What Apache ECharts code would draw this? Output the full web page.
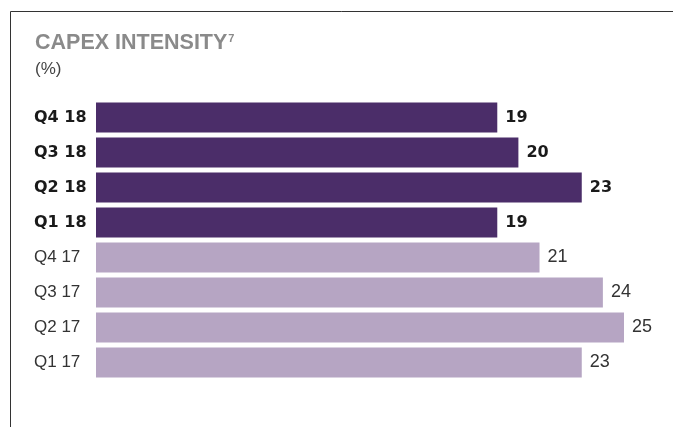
<!DOCTYPE html>
<html>
<head>
<meta charset="utf-8">
<script src="https://cdn.jsdelivr.net/npm/echarts@6/dist/echarts.min.js"></script>
<style>html,body{margin:0;padding:0;background:#fff;}#c{width:673px;height:427px;}</style>
</head>
<body>
<div id="c"></div>
<script>
var categories = ['Q4 18', 'Q3 18', 'Q2 18', 'Q1 18', 'Q4 17', 'Q3 17', 'Q2 17', 'Q1 17'];
var values = [19, 20, 23, 19, 21, 24, 25, 23];
var highlighted = [true, true, true, true, false, false, false, false];
var titleText = 'CAPEX INTENSITY';
var titleNote = '7';
var unitText = '(%)';

var DARK = '#4b2d69';
var LIGHT = '#b6a5c3';

var chart = echarts.init(document.getElementById('c'), null, {renderer: 'canvas'});

var data = values.map(function (v, i) {
  var hl = highlighted[i];
  return {
    value: v,
    itemStyle: {color: hl ? DARK : LIGHT},
    label: hl ? {fontFamily: 'DejaVu Sans', fontWeight: 'bold', fontSize: 16, color: '#1a1a1a'}
              : {fontFamily: 'Liberation Sans', fontWeight: 'normal', fontSize: 18, color: '#333'}
  };
});

chart.setOption({
  animation: false,
  backgroundColor: '#fff',
  title: {
    text: '{t|' + titleText + '}{s|' + titleNote + '}',
    left: 35,
    top: 33,
    padding: 0,
    textStyle: {
      rich: {
        t: {fontFamily: 'Liberation Sans', fontWeight: 'bold', fontSize: 21.5, color: '#8a8a8a', lineHeight: 21},
        s: {fontFamily: 'Liberation Sans', fontWeight: 'bold', fontSize: 11, color: '#8a8a8a', verticalAlign: 'top', lineHeight: 21, padding: [0, 0, 8, 1]}
      }
    }
  },
  graphic: [
    {type: 'line', shape: {x1: 10.5, y1: 11.5, x2: 673, y2: 11.5}, style: {stroke: '#333', lineWidth: 1}},
    {type: 'line', shape: {x1: 10.5, y1: 11.5, x2: 10.5, y2: 427}, style: {stroke: '#333', lineWidth: 1}},
    {type: 'text', left: 35, top: 61, style: {text: unitText, font: '17px "Liberation Sans"', fill: '#444'}}
  ],
  grid: {left: 96, right: 49, top: 100, height: 280},
  xAxis: {type: 'value', min: 0, max: 25, show: false},
  yAxis: {
    type: 'category',
    data: categories,
    inverse: true,
    axisLine: {show: false},
    axisTick: {show: false},
    axisLabel: {
      align: 'left',
      margin: 62,
      formatter: function (v, i) {
        return highlighted[i] ? '{b|' + v + '}' : '{r|' + v + '}';
      },
      rich: {
        b: {fontFamily: 'DejaVu Sans', fontWeight: 'bold', fontSize: 16, color: '#1a1a1a'},
        r: {fontFamily: 'Liberation Sans', fontWeight: 'normal', fontSize: 17, color: '#333'}
      }
    }
  },
  series: [{
    type: 'bar',
    data: data,
    barWidth: 30,
    label: {show: true, position: 'right', distance: 8}
  }]
});
</script>
</body>
</html>
